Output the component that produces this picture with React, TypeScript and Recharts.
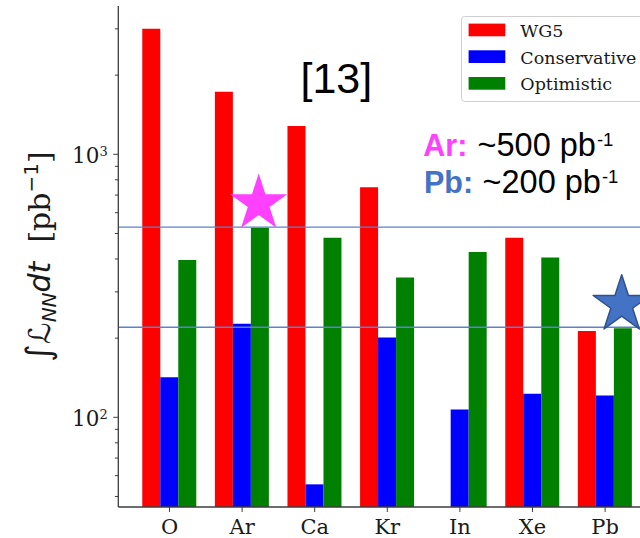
import React from 'react';
import { BarChart, Bar, XAxis, YAxis, Legend, ReferenceLine, ReferenceDot } from 'recharts';

// ---- data ----
const categories = ['O', 'Ar', 'Ca', 'Kr', 'In', 'Xe', 'Pb'];
const wg5Values: (number | null)[] = [3000, 1730, 1280, 750, null, 482, 213];
const conservativeValues = [142, 227, 55.6, 201, 107, 123, 121];
const optimisticValues = [396, 526, 482, 340, 425, 405, 218];
const seriesNames = ['WG5', 'Conservative', 'Optimistic'];
const seriesColors = ['#FF0000', '#0000FF', '#008000'];
const yTicks = [50, 60, 70, 80, 90, 100, 200, 300, 400, 500, 600, 700, 800, 900, 1000, 2000, 3000];
const yMajorExponents: Record<number, string> = { 100: '2', 1000: '3' };
const yDomain = [45.6, 3664];
const referenceLevels = [529, 220];
const starMarks = [
  { category: 'Ar', value: 650, color: '#FF40FF', outline: 'none' },
  { category: 'Pb', value: 268, color: '#4472C4', outline: '#2F528F' },
];

const data = categories.map((name, i) => ({
  name,
  wg5: wg5Values[i],
  conservative: conservativeValues[i],
  optimistic: optimisticValues[i],
}));

const AXIS = '#3c3c3c';

const starPath = (cx: number, cy: number, R: number) => {
  const r = R * 0.382;
  const pts: string[] = [];
  for (let k = 0; k < 10; k++) {
    const ang = -Math.PI / 2 + (k * Math.PI) / 5;
    const rad = k % 2 === 0 ? R : r;
    pts.push(`${(cx + rad * Math.cos(ang)).toFixed(2)},${(cy + rad * Math.sin(ang)).toFixed(2)}`);
  }
  return `M${pts.join('L')}Z`;
};

const makeStar = (color: string, outline: string) => (props: any) => {
  const { cx, cy } = props;
  if (cx == null || cy == null) return <g />;
  return (
    <path
      d={starPath(cx + 16.6, cy, 30)}
      fill={color}
      stroke={outline}
      strokeWidth={outline === 'none' ? 0 : 1.5}
      strokeLinejoin="round"
    />
  );
};

const XTick = (props: any) => {
  const { x, y, payload } = props;
  return (
    <text x={x} y={y + 20.5} textAnchor="middle" fontFamily="DejaVu Serif" fontSize={21} fill="#1a1a1a">
      {payload.value}
    </text>
  );
};

const YTick = (props: any) => {
  const { x, y, payload } = props;
  const exp = yMajorExponents[payload.value];
  return (
    <g>
      <line x1={x} x2={x - (exp ? 5 : 3.4)} y1={y} y2={y} stroke={AXIS} strokeWidth={1} />
      {exp && (
        <text x={x - 10.6} y={y + 8.4} textAnchor="end" fontFamily="DejaVu Serif" fontSize={21.5} fill="#1a1a1a">
          10
          <tspan fontSize={13} dy={-6.5}>
            {exp}
          </tspan>
        </text>
      )}
    </g>
  );
};

const YLabel = (props: any) => {
  const vb = props.viewBox || { x: 0, y: 6, width: 118.3, height: 501 };
  const cx = vb.x + 50;
  const cy = vb.y + vb.height / 2;
  return (
    <text
      x={cx}
      y={cy}
      transform={`rotate(-90 ${cx} ${cy})`}
      textAnchor="middle"
      fontSize={30}
      fill="#1a1a1a"
      fontFamily="DejaVu Serif"
    >
      <tspan fontFamily="DejaVu Sans" fontSize={34}>∫</tspan>
      <tspan fontFamily="DejaVu Sans" fontStyle="italic">ℒ</tspan>
      <tspan fontFamily="DejaVu Sans" fontStyle="italic" fontSize={20} dy={6}>NN</tspan>
      <tspan fontFamily="DejaVu Sans" fontStyle="italic" dy={-6}>dt</tspan>
      <tspan>{'\u00A0\u00A0[pb'}</tspan>
      <tspan fontFamily="DejaVu Sans" fontSize={20} dy={-12}>{'\u22121'}</tspan>
      <tspan dy={12}>]</tspan>
    </text>
  );
};

const LegendBox = () => (
  <svg width={200} height={88} style={{ display: 'block', overflow: 'visible' }}>
    <rect x={0.5} y={0.5} width={192} height={85} rx={3} fill="rgba(255,255,255,0.85)" stroke="#cfcfcf" />
    {seriesNames.map((name, i) => (
      <g key={name}>
        <rect x={7.6} y={7.6 + 26.7 * i} width={36.7} height={12.7} fill={seriesColors[i]} />
        <text x={59.3} y={21 + 26.7 * i} fontFamily="DejaVu Serif" fontSize={17.5} fill="#1a1a1a">
          {name}
        </text>
      </g>
    ))}
  </svg>
);

export default function App() {
  return (
    <div style={{ position: 'absolute', left: 0, top: 0, width: 640, height: 538, overflow: 'hidden', background: '#fff' }}>
      <BarChart
        width={676.3}
        height={538}
        data={data}
        margin={{ top: 6, right: 20, bottom: 0, left: 0 }}
        barCategoryGap="12.5%"
        barGap={0}
      >
        <XAxis
          dataKey="name"
          height={31}
          padding={{ left: 14.9, right: 14.9 }}
          tickSize={5}
          tickLine={{ stroke: AXIS }}
          axisLine={{ stroke: AXIS, strokeWidth: 1.3 }}
          tick={<XTick />}
          interval={0}
        />
        <XAxis
          xAxisId="top"
          orientation="top"
          dataKey="name"
          height={0}
          padding={{ left: 14.9, right: 14.9 }}
          tick={false}
          tickLine={false}
          axisLine={{ stroke: AXIS, strokeWidth: 1.3 }}
        />
        <YAxis
          scale="log"
          domain={yDomain}
          allowDataOverflow
          ticks={yTicks}
          interval={0}
          width={118.3}
          tickSize={0}
          tickMargin={0}
          tickLine={false}
          axisLine={{ stroke: AXIS, strokeWidth: 1.3 }}
          tick={<YTick />}
          label={<YLabel />}
        />
        <Legend
          layout="horizontal"
          verticalAlign="middle"
          align="center"
          wrapperStyle={{ left: 460.7, top: 15.7, width: 200, height: 88 }}
          content={<LegendBox />}
        />
        <Bar dataKey="wg5" name={seriesNames[0]} fill={seriesColors[0]} isAnimationActive={false} />
        <Bar dataKey="conservative" name={seriesNames[1]} fill={seriesColors[1]} isAnimationActive={false} />
        <Bar dataKey="optimistic" name={seriesNames[2]} fill={seriesColors[2]} isAnimationActive={false} />
        {referenceLevels.map((v) => (
          <ReferenceLine key={v} y={v} stroke="#5B82CC" strokeWidth={1.3} />
        ))}
        {starMarks.map((s) => (
          <ReferenceDot
            key={s.category}
            x={s.category}
            y={s.value}
            r={30}
            shape={makeStar(s.color, s.outline)}
            ifOverflow="visible"
          />
        ))}
      </BarChart>
      <svg width={640} height={538} style={{ position: 'absolute', left: 0, top: 0, pointerEvents: 'none' }}>
        <text x={300.5} y={93} fontFamily="Liberation Sans" fontSize={43} fill="#000">
          [13]
        </text>
        <text y={156} fontFamily="Liberation Sans" fontSize={30.5} fill="#000">
          <tspan x={423.3} fontWeight="bold" fill="#FF40FF">Ar:</tspan>
          <tspan x={477.5} fontSize={32.5}>~500 pb</tspan>
          <tspan dx={1} dy={-10} fontSize={18.5}>-1</tspan>
        </text>
        <text y={192.7} fontFamily="Liberation Sans" fontSize={30.5} fill="#000">
          <tspan x={424} fontWeight="bold" fill="#4472C4">Pb:</tspan>
          <tspan x={482.5} fontSize={32.5}>~200 pb</tspan>
          <tspan dx={1} dy={-10} fontSize={18.5}>-1</tspan>
        </text>
      </svg>
    </div>
  );
}
